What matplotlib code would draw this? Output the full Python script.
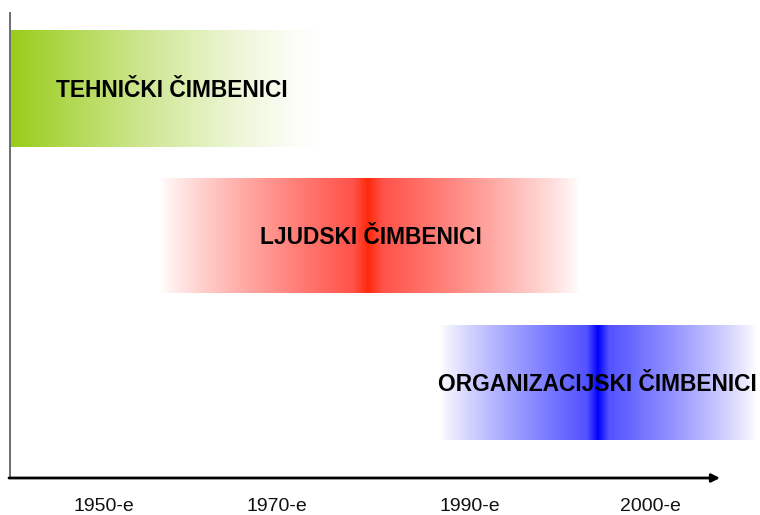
import numpy as np
import matplotlib
matplotlib.use("Agg")
import matplotlib.pyplot as plt

# ---- data ----
categories = ["TEHNIČKI ČIMBENICI", "LJUDSKI ČIMBENICI", "ORGANIZACIJSKI ČIMBENICI"]
band_start = [11, 160, 440]      # timeline units (left edge of band)
band_peak = [11, 368, 598]       # position of strongest colour
band_end = [320, 580, 757]       # right edge of band
band_colors = [(0.60, 0.80, 0.10), (1.0, 0.16, 0.04), (0.0, 0.0, 1.0)]
band_soft = [(0.60, 0.80, 0.10), (1.0, 0.28, 0.24), (0.28, 0.28, 1.0)]
band_rows = [(30, 147), (178, 293), (325, 440)]
label_x = [172, 371, 597]
era_labels = ["1950-e", "1970-e", "1990-e", "2000-e"]
era_pos = [104, 277, 470, 650]

fig = plt.figure(figsize=(7.6, 5.15), dpi=100)
ax = fig.add_axes([0, 0, 1, 1])
ax.set_xlim(0, 760)
ax.set_ylim(515, 0)
ax.axis("off")

for i, cat in enumerate(categories):
    s, p, e = band_start[i], band_peak[i], band_end[i]
    x = np.linspace(s, e, 800)
    d = np.where(x < p, (p - x) / max(p - s, 1e-9), (x - p) / max(e - p, 1e-9))
    d = np.clip(d, 0, 1)
    if i == 0:
        w = (1 - d) ** 1.3
        col = np.array(band_colors[i])
        rgb = 1 - w[:, None] * (1 - col[None, :])
    else:
        w = (1 - d) ** 0.85
        core = np.clip(1 - d / 0.07, 0, 1)
        c_soft = np.array(band_soft[i])
        c_core = np.array(band_colors[i])
        col = c_soft[None, :] * (1 - core[:, None]) + c_core[None, :] * core[:, None]
        rgb = 1 - w[:, None] * (1 - col)
    img = np.tile(rgb[None, :, :], (2, 1, 1))
    y0, y1 = band_rows[i]
    ax.imshow(img, extent=(s, e, y1, y0), aspect="auto", interpolation="bilinear", zorder=1)
    ax.text(label_x[i], (y0 + y1) / 2 + 2, cat, ha="center", va="center",
            fontsize=16.4, fontweight="bold", family="Liberation Sans", zorder=3)

# axes lines
ax.plot([10, 10], [12, 478], color="#555555", lw=1.2, zorder=2, solid_capstyle="butt")
ax.annotate("", xy=(720, 478), xytext=(9, 478),
            arrowprops=dict(arrowstyle="-|>", color="black", lw=2,
                            mutation_scale=12, shrinkA=0, shrinkB=0), zorder=2)

for lab, xp in zip(era_labels, era_pos):
    ax.text(xp, 511, lab, ha="center", va="baseline", fontsize=14,
            family="Liberation Sans", color="#111111")

fig.savefig("out.png", dpi=100, facecolor="white")
